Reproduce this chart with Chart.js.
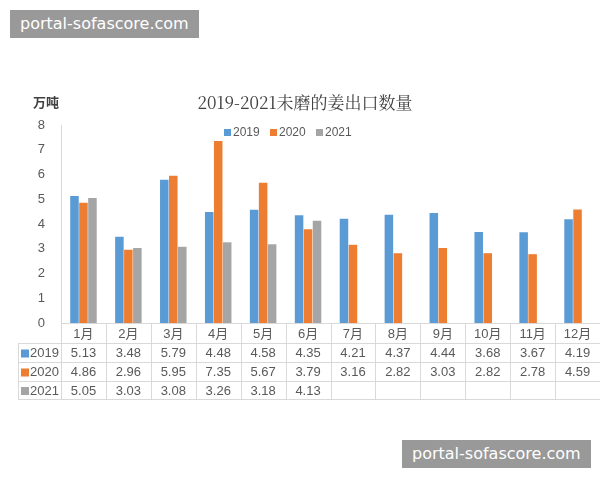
<!DOCTYPE html>
<html><head><meta charset="utf-8">
<script src="https://cdn.jsdelivr.net/npm/chart.js@4/dist/chart.umd.min.js"></script>
<style>
html,body{margin:0;padding:0;background:#fff;}
#wrap{position:relative;width:600px;height:480px;}
.wm{position:absolute;background:#999;color:#fff;font:16px "DejaVu Sans",sans-serif;padding:4px 10px;line-height:20px;}
</style></head>
<body>
<div id="wrap">
<canvas id="c" width="600" height="480"></canvas>
<div class="wm" style="left:10px;top:10px;">portal-sofascore.com</div>
<div class="wm" style="left:402px;top:440px;">portal-sofascore.com</div>
</div>
<script>
const months = ['1月','2月','3月','4月','5月','6月','7月','8月','9月','10月','11月','12月'];
const years = ['2019','2020','2021'];
const v2019 = [5.13,3.48,5.79,4.48,4.58,4.35,4.21,4.37,4.44,3.68,3.67,4.19];
const v2020 = [4.86,2.96,5.95,7.35,5.67,3.79,3.16,2.82,3.03,2.82,2.78,4.59];
const v2021 = [5.05,3.03,3.08,3.26,3.18,4.13,null,null,null,null,null,null];
const colors = ['#5b9bd5','#ed7d31','#a5a5a5'];
const series = [v2019, v2020, v2021];

const font = '"Liberation Sans", "Noto Sans CJK SC", sans-serif';
const rows = [323, 343, 362, 381, 399];

const tablePlugin = {
    id: 'table',
    afterDraw(chart) {
        const ctx = chart.ctx;
        const x = chart.scales.x;
        const left = 18, colL = x.left, right = x.right;
        const w = (right - colL) / months.length;
        ctx.save();
        ctx.strokeStyle = '#d9d9d9';
        ctx.lineWidth = 1;
        // horizontal lines
        for (let i = 1; i < rows.length; i++) {
            ctx.beginPath();
            ctx.moveTo(i === 1 ? left : left, rows[i] + 0.5);
            ctx.lineTo(right, rows[i] + 0.5);
            ctx.stroke();
        }
        // vertical lines
        for (let i = 0; i <= months.length; i++) {
            const px = Math.round(colL + i * w) + 0.5;
            ctx.beginPath(); ctx.moveTo(px, rows[0]); ctx.lineTo(px, rows[4]); ctx.stroke();
        }
        ctx.beginPath(); ctx.moveTo(left + 0.5, rows[1]); ctx.lineTo(left + 0.5, rows[4]); ctx.stroke();
        ctx.textAlign = 'center'; ctx.textBaseline = 'middle';
        ctx.fillStyle = '#595959';
        ctx.font = '13px ' + font;
        months.forEach((m, i) => ctx.fillText(m, colL + (i + 0.5) * w, (rows[0] + rows[1]) / 2 + 1));
        series.forEach((s, r) => {
            const cy = (rows[r + 1] + rows[r + 2]) / 2 + 1;
            ctx.fillStyle = colors[r];
            ctx.fillRect(21, cy - 4, 8, 8);
            ctx.fillStyle = '#595959';
            ctx.textAlign = 'left';
            ctx.fillText(years[r], 30, cy);
            ctx.textAlign = 'center';
            s.forEach((v, i) => { if (v !== null) ctx.fillText(v.toFixed(2), colL + (i + 0.5) * w, cy); });
        });
        // title, unit and legend
        ctx.fillStyle = '#404040';
        ctx.font = '17px "Noto Serif CJK SC", "Liberation Serif", "Noto Sans CJK SC", serif';
        ctx.fillText('2019-2021未磨的姜出口数量', 305, 103);
        ctx.font = 'bold 13px "Noto Sans CJK SC", sans-serif';
        ctx.fillText('万吨', 46, 102);
        ctx.font = '12px ' + font;
        let lx = 224;
        years.forEach((y, i) => {
            ctx.fillStyle = colors[i];
            ctx.fillRect(lx, 129, 7, 7);
            ctx.fillStyle = '#595959';
            ctx.textAlign = 'left';
            ctx.fillText(y, lx + 9, 133);
            lx += 46;
        });
        ctx.restore();
    }
};

new Chart(document.getElementById('c'), {
    type: 'bar',
    data: {
        labels: months,
        datasets: series.map((s, i) => ({
            label: years[i], data: s, backgroundColor: colors[i],
            categoryPercentage: 0.6, barPercentage: 0.95
        }))
    },
    options: {
        responsive: false, animation: false,
        layout: { padding: { top: 125, left: 0, right: 0, bottom: 0 } },
        plugins: { legend: { display: false }, tooltip: { enabled: false } },
        scales: {
            x: {
                grid: { display: false, drawTicks: false },
                border: { color: '#d9d9d9' },
                ticks: { display: false },
                afterFit(s) { s.height = 480 - 323; }
            },
            y: {
                min: 0, max: 8,
                ticks: { stepSize: 1, color: '#595959', font: { size: 13, family: font }, padding: 8 },
                grid: { display: false },
                border: { color: '#d9d9d9' },
                afterFit(s) { s.width = 61; }
            }
        }
    },
    plugins: [tablePlugin]
});
</script>
</body></html>
